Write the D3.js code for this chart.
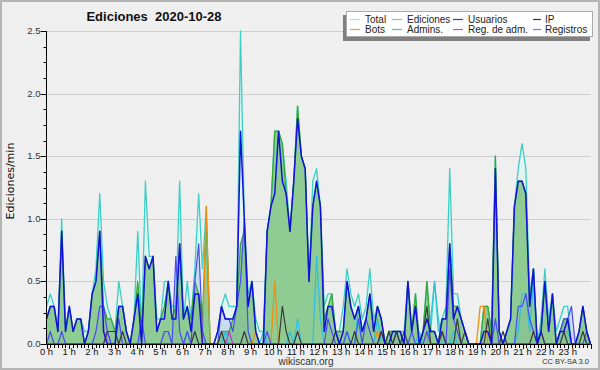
<!DOCTYPE html>
<html>
<head>
<meta charset="utf-8">
<script src="https://cdn.jsdelivr.net/npm/d3@7"></script>
<style>
  body { margin: 0; background: #fff; }
  svg { display: block; font-family: "Liberation Sans", Arial, sans-serif; }
</style>
</head>
<body>
<svg width="600" height="370"></svg>
<script>
// one value every 10 minutes, 6 per hour
var total = [
  0.3,0.4,0.3,0.1,1.0,0.1, 0.3,0.1,0.2,0.2,0.1,0.1, 0.4,0.6,1.2,0.5,0.3,0.2, 0.1,0.5,0.3,0.1,0.0,0.2,
  0.9,0.1,1.3,0.7,0.7,0.2, 0.2,0.5,0.5,0.3,0.3,1.3, 0.2,0.5,0.2,0.6,1.2,0.6, 1.1,0.0,0.0,0.1,0.3,0.4,
  0.3,0.3,0.3,2.5,1.0,0.4, 0.5,0.2,0.1,0.1,0.9,1.1, 1.7,1.7,1.6,1.3,0.9,1.3, 1.9,1.5,1.4,0.5,1.3,1.4,
  1.1,0.3,0.4,0.4,0.1,0.1, 0.3,0.6,0.4,0.3,0.4,0.2, 0.3,0.6,0.2,0.3,0.2,0.0, 0.1,0.1,0.1,0.1,0.1,0.5,
  0.1,0.4,0.0,0.1,0.5,0.1, 0.5,0.1,0.2,0.3,1.4,0.4, 0.4,0.2,0.1,0.0,0.0,0.0, 0.0,0.3,0.3,0.1,1.5,0.1,
  0.0,0.1,0.2,1.1,1.4,1.6, 1.4,0.4,0.6,0.0,0.2,0.6, 0.2,0.4,0.1,0.2,0.3,0.3, 0.0,0.0,0.1,0.3,0.1,0.0
];
var ediciones = [
  0.2,0.3,0.3,0.1,0.9,0.1, 0.3,0.1,0.2,0.2,0.0,0.1, 0.4,0.5,0.9,0.3,0.2,0.2, 0.1,0.3,0.3,0.1,0.0,0.2,
  0.5,0.1,0.7,0.6,0.7,0.1, 0.2,0.3,0.5,0.2,0.3,0.8, 0.2,0.3,0.2,0.5,0.4,0.2, 1.0,0.0,0.0,0.0,0.1,0.1,
  0.1,0.2,0.3,0.8,0.9,0.3, 0.5,0.1,0.0,0.0,0.9,1.1, 1.7,1.7,1.6,1.2,0.9,1.3, 1.9,1.5,1.4,0.5,1.1,1.3,
  1.1,0.2,0.3,0.4,0.1,0.1, 0.1,0.5,0.3,0.2,0.3,0.1, 0.2,0.4,0.1,0.3,0.2,0.0, 0.1,0.1,0.1,0.1,0.0,0.5,
  0.1,0.4,0.0,0.1,0.5,0.1, 0.1,0.0,0.2,0.2,0.8,0.3, 0.3,0.2,0.1,0.0,0.0,0.0, 0.0,0.3,0.3,0.1,1.5,0.1,
  0.0,0.1,0.2,1.1,1.3,1.3, 1.2,0.3,0.6,0.0,0.1,0.5, 0.1,0.4,0.0,0.1,0.2,0.2, 0.0,0.0,0.1,0.3,0.1,0.0
];
var usuarios = [
  0.2,0.3,0.3,0.1,0.9,0.1, 0.3,0.1,0.2,0.2,0.0,0.1, 0.4,0.5,0.9,0.1,0.0,0.0, 0.0,0.3,0.3,0.1,0.0,0.2,
  0.4,0.0,0.7,0.6,0.7,0.1, 0.2,0.2,0.5,0.2,0.2,0.8, 0.2,0.3,0.1,0.4,0.4,0.0, 0.0,0.0,0.0,0.1,0.3,0.2,
  0.2,0.2,0.3,1.7,1.0,0.3, 0.5,0.1,0.0,0.0,0.9,1.1, 1.2,1.7,1.3,1.2,0.9,1.3, 1.8,1.5,1.4,0.5,1.1,1.3,
  1.1,0.1,0.3,0.3,0.1,0.0, 0.1,0.5,0.3,0.2,0.3,0.1, 0.2,0.4,0.1,0.3,0.2,0.0, 0.0,0.1,0.1,0.1,0.0,0.5,
  0.1,0.3,0.0,0.1,0.2,0.1, 0.1,0.0,0.2,0.2,0.8,0.2, 0.3,0.2,0.1,0.0,0.0,0.0, 0.0,0.1,0.1,0.0,1.4,0.1,
  0.0,0.1,0.2,1.1,1.3,1.3, 1.2,0.3,0.6,0.0,0.1,0.5, 0.1,0.4,0.0,0.1,0.1,0.2, 0.0,0.0,0.1,0.3,0.1,0.0
];
var ip = [
  0,0,0,0,0,0, 0,0,0,0,0,0, 0,0,0,0,0.1,0.1, 0.1,0,0.1,0,0,0,
  0,0,0,0,0,0, 0,0,0,0,0,0, 0,0,0,0.1,0,0, 0,0,0,0,0.1,0,
  0,0,0,0,0.1,0, 0,0,0,0,0,0, 0,0,0.3,0.1,0,0, 0.1,0,0,0,0,0,
  0,0,0,0,0.1,0, 0,0,0,0.1,0,0, 0,0,0,0,0.1,0, 0.1,0,0.1,0,0.1,0,
  0,0,0,0.1,0.3,0, 0,0,0.1,0,0,0, 0.2,0,0.1,0,0,0, 0,0,0.2,0,0,0,
  0.1,0,0,0,0,0, 0,0,0.1,0,0.1,0, 0,0,0,0,0.1,0, 0,0,0,0.1,0,0
];
var bots = [
  0,0,0,0,0,0, 0,0,0,0,0,0, 0,0,0,0,0,0, 0,0,0,0,0,0,
  0,0,0,0,0,0, 0,0,0,0,0,0, 0,0,0,0,0,0, 1.1,0,0,0,0,0,
  0,0,0,0,0,0, 0,0.1,0,0,0,0, 0.5,0,0,0,0,0, 0,0,0,0,0,0,
  0,0,0,0,0,0, 0,0,0,0,0,0, 0,0,0,0.1,0,0, 0,0,0,0,0,0,
  0,0,0,0,0.1,0, 0,0,0,0,0,0, 0,0,0,0,0,0, 0.3,0.3,0,0,0,0,
  0,0,0,0,0,0, 0,0,0,0,0,0, 0,0,0,0,0,0, 0,0,0,0,0,0
];
var admins = [
  0,0,0,0,0,0, 0,0,0,0,0,0, 0,0,0,0,0,0, 0,0,0,0,0,0,
  0,0,0,0,0,0, 0,0,0,0,0,0, 0,0.1,0,0,0,0, 0,0,0,0,0,0.1,
  0,0,0,0,0,0, 0,0,0,0.1,0,0, 0,0,0,0,0.1,0, 0.2,0,0,0,0,0.7,
  0.2,0,0,0,0,0, 0,0.1,0,0,0.3,0, 0,0,0,0.2,0,0, 0,0,0,0,0,0,
  0,0,0.1,0,0,0.2, 0.5,0.2,0,0,0,0.1, 0,0,0,0,0,0, 0,0,0,0,0,0,
  0,0,0,0,0.1,0.4, 0.4,0.1,0.5,0,0,0, 0,0,0,0,0.1,0.1, 0,0,0,0,0,0
];
var regAdm = [
  0,0,0,0,0,0, 0,0,0,0,0,0, 0,0,0,0,0.1,0, 0,0,0,0,0,0,
  0,0,0,0,0,0, 0,0,0,0,0,0, 0,0,0,0,0,0, 0,0,0,0,0,0,
  0.1,0,0,0,0,0, 0,0,0,0,0,0, 0,0,0,0,0,0, 0,0,0,0,0,0,
  0,0,0,0,0,0, 0,0,0,0,0,0, 0,0,0,0,0,0, 0,0,0,0,0,0,
  0,0,0,0,0,0, 0,0,0,0,0,0, 0,0,0,0,0,0, 0,0,0,0,0,0,
  0,0,0,0,0,0, 0,0,0,0,0,0, 0,0,0,0,0,0, 0,0,0,0,0,0
];
var registros = [
  0.0,0.1,0.0,0.0,0.1,0.0, 0,0,0,0,0,0, 0.0,0.1,0.3,0.3,0.1,0.0, 0.0,0.2,0.0,0.0,0.0,0.0,
  0.0,0.2,0.0,0.0,0.0,0.0, 0.0,0.1,0.1,0.0,0.7,0.1, 0.0,0.1,0.0,0.5,0.8,0.1, 0.0,0.0,0.0,0.0,0.3,0.2,
  0.2,0.1,0.3,0.5,1.0,0.1, 0.0,0.0,0.0,0.0,0.1,0.0, 0,0,0,0,0,0, 0,0,0,0,0,0,
  0.0,0.0,0.2,0.1,0.0,0.0, 0.0,0.1,0.0,0.0,0.2,0.0, 0.2,0.1,0.0,0.0,0.1,0.0, 0.0,0.0,0.1,0.0,0.0,0.0,
  0.1,0.0,0.0,0.0,0.1,0.0, 0.0,0.0,0.1,0.0,0.6,0.2, 0.1,0.0,0.0,0.0,0.0,0.0, 0.0,0.0,0.0,0.0,0.2,0.0,
  0.0,0.0,0.0,0.0,0.3,0.3, 0.4,0.2,0.1,0.0,0.1,0.0, 0.0,0.0,0.0,0.1,0.2,0.2, 0.3,0.0,0.0,0.0,0.1,0.0
];
var yTicks = [0, 0.5, 1.0, 1.5, 2.0, 2.5];
var hourLabels = d3.range(24).map(function(h){ return h + " h"; });

var legendItems = [
  {name: "Total", color: "#a6e3dc"}, {name: "Ediciones", color: "#86cf86"},
  {name: "Usuarios", color: "#3a3ad8"}, {name: "IP", color: "#333333"},
  {name: "Bots", color: "#f09a30"}, {name: "Admins.", color: "#40c4dc"},
  {name: "Reg. de adm.", color: "#c848d8"}, {name: "Registros", color: "#7a7af0"}
];

var svg = d3.select("svg");
var x0 = 46.5, x1 = 590.5, yTop = 31, yBot = 344;

svg.append("rect").attr("width", 600).attr("height", 370).attr("fill", "#efefef");
svg.append("rect").attr("x", 1).attr("y", 1).attr("width", 598).attr("height", 368)
  .attr("fill", "none").attr("stroke", "#b4b4b4").attr("stroke-width", 2);

var x = d3.scaleLinear().domain([0, total.length - 1]).range([x0, x1]);
var xh = d3.scaleLinear().domain([0, 24]).range([x0, x1]);
var y = d3.scaleLinear().domain([0, 2.5]).range([yBot, yTop]);

// grid
svg.append("g").selectAll("line").data(yTicks.slice(1)).enter().append("line")
  .attr("x1", x0).attr("x2", x1)
  .attr("y1", function(d){ return Math.round(y(d)) + 0.5; })
  .attr("y2", function(d){ return Math.round(y(d)) + 0.5; })
  .attr("stroke", "#cfcfcf").attr("stroke-width", 1);

var area = function(arr){
  return d3.area().x(function(d, i){ return x(i); }).y0(yBot).y1(function(d){ return y(d); })(arr);
};
var line = function(arr){
  return d3.line().x(function(d, i){ return x(i); }).y(function(d){ return y(d); })(arr);
};

var plot = svg.append("g");
plot.append("path").attr("d", area(total)).attr("fill", "#e2f5f1");
plot.append("path").attr("d", area(registros)).attr("fill", "#5a6cf0").attr("fill-opacity", 0.18);
plot.append("path").attr("d", area(ediciones)).attr("fill", "#6cbb6c").attr("fill-opacity", 0.7);

var lines = [
  {data: total, color: "#3ccfc6", w: 1.3},
  {data: ediciones, color: "#38a838", w: 1.3},
  {data: bots, color: "#f09010", w: 1.3},
  {data: regAdm, color: "#c030d0", w: 1.2},
  {data: admins, color: "#2ec0e0", w: 1.2},
  {data: registros, color: "#4a4af2", w: 1.2},
  {data: ip, color: "#3a3a3a", w: 1.2},
  {data: usuarios, color: "#1212d8", w: 1.5}
];
plot.selectAll("path.ln").data(lines).enter().append("path")
  .attr("class", "ln")
  .attr("d", function(d){ return line(d.data); })
  .attr("fill", "none")
  .attr("stroke", function(d){ return d.color; })
  .attr("stroke-width", function(d){ return d.w; })
  .attr("stroke-linejoin", "round");

// y axis
var yAxis = svg.append("g").attr("stroke", "#000");
yAxis.append("line").attr("x1", x0).attr("x2", x0).attr("y1", yTop).attr("y2", yBot);
yAxis.selectAll("line.mn").data(d3.range(0, 21)).enter().append("line")
  .attr("x1", function(d){ return d % 4 == 0 ? x0 - 6 : x0 - 3; }).attr("x2", x0)
  .attr("y1", function(d){ return Math.round(y(d * 0.125)) + 0.5; })
  .attr("y2", function(d){ return Math.round(y(d * 0.125)) + 0.5; });
svg.append("g").selectAll("text").data(yTicks).enter().append("text")
  .attr("x", x0 - 6).attr("y", function(d){ return y(d) + 3; })
  .attr("text-anchor", "end").attr("font-size", "9.5px").attr("fill", "#333")
  .text(d3.format(".1f"));

// x axis
var xAxis = svg.append("g").attr("stroke", "#000");
xAxis.append("line").attr("x1", x0).attr("x2", x1).attr("y1", yBot + 0.5).attr("y2", yBot + 0.5);
xAxis.selectAll("line.tk").data(d3.range(0, 145)).enter().append("line")
  .attr("x1", function(d){ return Math.round(xh(d / 6)) + 0.5; })
  .attr("x2", function(d){ return Math.round(xh(d / 6)) + 0.5; })
  .attr("y1", yBot).attr("y2", function(d){ return d % 6 == 0 ? yBot + 5 : yBot + 4; });
svg.append("g").selectAll("text").data(hourLabels).enter().append("text")
  .attr("x", function(d, i){ return xh(i); }).attr("y", yBot + 11)
  .attr("text-anchor", "middle").attr("font-size", "9.5px").attr("fill", "#111")
  .text(function(d){ return d; });

// titles
svg.append("text").attr("x", 154).attr("y", 21).attr("text-anchor", "middle")
  .attr("font-size", "13px").attr("font-weight", "bold").attr("fill", "#111")
  .attr("xml:space", "preserve").text("Ediciones  2020-10-28");
svg.append("text").attr("transform", "translate(14,181) rotate(-90)").attr("text-anchor", "middle")
  .attr("font-family", "DejaVu Sans").attr("font-size", "11px").attr("fill", "#111").text("Ediciones/min");
svg.append("text").attr("x", 306).attr("y", 365).attr("text-anchor", "middle")
  .attr("font-size", "10px").attr("fill", "#333").text("wikiscan.org");
svg.append("text").attr("x", 589).attr("y", 364).attr("text-anchor", "end")
  .attr("font-size", "7.5px").attr("fill", "#333").text("CC BY-SA 3.0");

// legend
var lg = svg.append("g");
lg.append("rect").attr("x", 343).attr("y", 15).attr("width", 247).attr("height", 26).attr("fill", "#808080");
lg.append("rect").attr("x", 346.5).attr("y", 11.5).attr("width", 246).attr("height", 25)
  .attr("fill", "#fff").attr("stroke", "#aaa");
var colX = [350, 392, 453, 533];
var item = lg.selectAll("g.it").data(legendItems).enter().append("g")
  .attr("transform", function(d, i){ return "translate(" + colX[i % 4] + "," + (i < 4 ? 19.5 : 29.5) + ")"; });
item.append("line").attr("x1", 0).attr("x2", function(d, i){ return i % 4 == 3 ? 8 : 10; })
  .attr("stroke", function(d){ return d.color; }).attr("stroke-width", 1.2);
item.append("text").attr("x", function(d, i){ return i % 4 == 3 ? 12 : 15; }).attr("y", 3.5)
  .attr("font-size", "10px").attr("fill", "#222")
  .text(function(d){ return d.name; });
</script>
</body>
</html>
